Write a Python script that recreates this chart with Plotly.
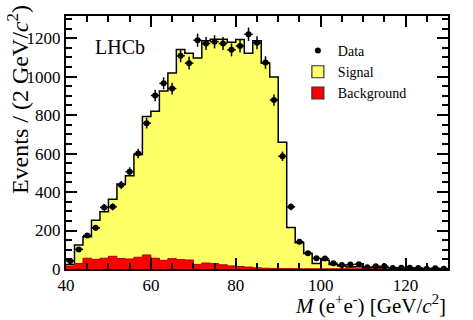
import numpy as np
import plotly.graph_objects as go

# Bins de 2 GeV entre 40 y 130
bordes = np.arange(40, 132, 2)
centros = bordes[:-1] + 1

# Cuentas
datos = [42, 102, 174, 214, 320, 323, 437, 506, 600, 758,
         902, 965, 938, 1108, 1070, 1189, 1172, 1181, 1172, 1139,
         1159, 1220, 1176, 1073, 878, 586, 323, 141, 82, 56,
         54, 30, 21, 23, 25, 9, 14, 14, 5, 7,
         7, 5, 1, 4, 1]
total = [24, 125, 167, 254, 297, 363, 442, 485, 595, 793,
         820, 925, 1019, 1141, 1122, 1097, 1187, 1194, 1194, 1178,
         1193, 1122, 1187, 1070, 998, 659, 216, 137, 80, 28,
         45, 24, 16, 10, 12, 8, 7, 6, 5, 5,
         4, 4, 3, 3, 2]
fondo = [15, 28, 56, 50, 56, 66, 54, 52, 61, 73,
         56, 45, 54, 49, 47, 24, 31, 28, 22, 16,
         13, 10, 6, 4, 3, 2, 2, 1, 1, 1,
         1, 1, 1, 1, 1, 1, 1, 1, 1, 1,
         1, 1, 1, 1, 1]

amarillo = "#ffff66"
rojo = "#ff0000"


def escalon(valores):
    # histograma como linea escalonada desde los bordes
    return list(bordes), list(valores) + [valores[-1]]


fuente = "Liberation Serif"
fig = go.Figure()

xs, ys = escalon(total)
fig.add_trace(go.Scatter(x=xs, y=ys, mode="lines", line=dict(shape="hv", color="black", width=1.5),
                         fill="tozeroy", fillcolor=amarillo, showlegend=False, hoverinfo="skip"))
xs, ys = escalon(fondo)
fig.add_trace(go.Scatter(x=xs, y=ys, mode="lines", line=dict(shape="hv", color="#aa0000", width=1),
                         fill="tozeroy", fillcolor=rojo, showlegend=False, hoverinfo="skip"))
fig.add_trace(go.Scatter(
    x=centros, y=datos, mode="markers", name="Data", legendrank=1,
    marker=dict(color="black", size=6),
    error_y=dict(type="data", array=np.sqrt(datos), width=0, thickness=1.5, color="black"),
    error_x=dict(type="data", array=[1] * len(datos), width=0, thickness=1.5, color="black"),
))
# entradas de leyenda con cajas
fig.add_trace(go.Bar(x=[None], y=[None], name="Signal", legendrank=2,
                     marker=dict(color=amarillo, line=dict(color="#333333", width=1.2))))
fig.add_trace(go.Bar(x=[None], y=[None], name="Background", legendrank=3,
                     marker=dict(color=rojo, line=dict(color="#333333", width=1.2))))

eje = dict(showline=True, linecolor="black", linewidth=2, mirror="allticks",
           ticks="inside", ticklen=11, tickwidth=1.5, tickcolor="black",
           showgrid=False, zeroline=False,
           tickfont=dict(family=fuente, size=17, color="black"))

fig.update_layout(
    width=473, height=320,
    margin=dict(l=66, r=25, t=16, b=51),
    plot_bgcolor="white", paper_bgcolor="white",
    font=dict(family=fuente, color="black"),
    xaxis=dict(eje, range=[40, 130], dtick=20, tick0=40,
               minor=dict(dtick=5, ticks="inside", ticklen=6, tickcolor="black")),
    yaxis=dict(eje, range=[0, 1315], dtick=200,
               minor=dict(dtick=50, ticks="inside", ticklen=6, tickcolor="black")),
    legend=dict(x=0.607, y=0.925, xanchor="left", yanchor="top",
                bgcolor="rgba(0,0,0,0)", font=dict(family=fuente, size=14)),
    showlegend=True,
    annotations=[
        dict(text="LHCb", x=0.07, y=0.877, xref="paper", yref="paper", xanchor="left", yanchor="middle",
             showarrow=False, font=dict(family=fuente, size=20)),
        dict(text="Events / (2 GeV/<i>c</i><sup>2</sup>)", x=-0.125, y=1.05, xref="paper", yref="paper",
             xanchor="center", yanchor="top", textangle=-90, showarrow=False,
             font=dict(family=fuente, size=24)),
        dict(text="<i>M</i> (e<sup>+</sup>e<sup>-</sup>) [GeV/<i>c</i><sup>2</sup>]", x=1, y=-0.142,
             xref="paper", yref="paper", xanchor="right", yanchor="middle", showarrow=False,
             font=dict(family=fuente, size=21)),
    ],
)

# quitar el margen del body para que la figura empiece en (0, 0)
fig.write_html("out.html", config={"displayModeBar": False},
               post_script="document.body.style.margin='0';")
